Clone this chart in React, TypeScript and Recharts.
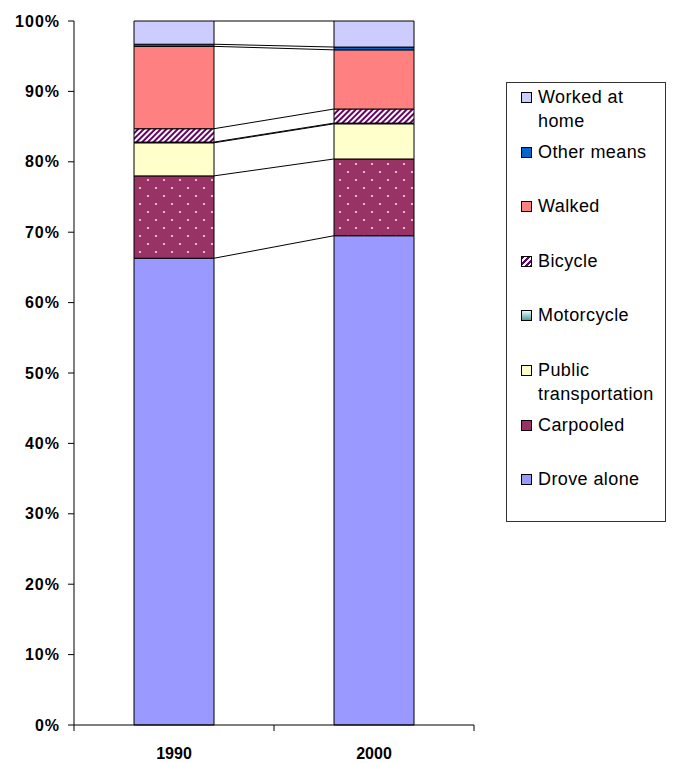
import { ComposedChart, Bar, Line, XAxis, YAxis } from "recharts";

// values in percent of workers
const years = ["1990", "2000"];
const droveAlone = [66.3, 69.5];
const carpooled = [11.7, 10.9];
const publicTransportation = [4.7, 5.0];
const motorcycle = [0.1, 0.1];
const bicycle = [1.9, 2.0];
const walked = [11.7, 8.4];
const otherMeans = [0.3, 0.4];
const workedAtHome = [3.3, 3.7];
const yTicks = [0, 10, 20, 30, 40, 50, 60, 70, 80, 90, 100];
const categoryEdges = [0, 1, 2];

const BAR_GAP = 0.3;
const FONT = "'Liberation Sans', Arial, sans-serif";

const series = [
  { key: "drove", name: "Drove alone", values: droveAlone, fill: "#9999FF", swatch: "#9999FF" },
  { key: "carpool", name: "Carpooled", values: carpooled, fill: "url(#dots)", swatch: "#993366" },
  { key: "public", name: "Public transportation", values: publicTransportation, fill: "#FFFFCC", swatch: "#FFFFCC" },
  { key: "moto", name: "Motorcycle", values: motorcycle, fill: "url(#teal)", swatch: "linear-gradient(to bottom, #dff, #5a9a9a)" },
  { key: "bike", name: "Bicycle", values: bicycle, fill: "url(#hatch)", swatch: "repeating-linear-gradient(135deg, #660066 0 2px, #fff 2px 4px)" },
  { key: "walk", name: "Walked", values: walked, fill: "#FF8080", swatch: "#FF8080" },
  { key: "other", name: "Other means", values: otherMeans, fill: "#0066CC", swatch: "#0066CC" },
  { key: "home", name: "Worked at home", values: workedAtHome, fill: "#CCCCFF", swatch: "#CCCCFF" },
];

const data = years.map((year, i) => {
  const row: Record<string, string | number> = { year };
  series.forEach((s) => (row[s.key] = s.values[i]));
  return row;
});

// connector lines from the right edge of 1990 to the left edge of 2000, at each segment top
const connectors = series.map((s, k) => {
  const cum = years.map((_, i) =>
    series.slice(0, k + 1).reduce((acc, t) => acc + t.values[i], 0)
  );
  return {
    key: s.key,
    points: [
      { pos: 1 - BAR_GAP, v: cum[0] },
      { pos: 1 + BAR_GAP, v: cum[1] },
    ],
  };
});

// tick mark between categories, drawn down from the axis line
const EdgeTick = (props: any) => (
  <line x1={props.x} x2={props.x} y1={props.y - 1} y2={props.y + 5} stroke="#000" />
);

function LegendBox() {
  return (
    <div
      style={{
        position: "absolute",
        left: 506,
        top: 82,
        width: 158,
        height: 438,
        border: "1px solid #333",
        fontFamily: FONT,
        fontSize: 18,
        letterSpacing: 0.4,
        color: "#000",
      }}
    >
      {[...series].reverse().map((s, i) => (
        <div
          key={s.key}
          style={{ position: "absolute", left: 0, top: 3 + i * 54.6, width: 158 }}
        >
          <div
            style={{
              position: "absolute",
              left: 14,
              top: 6,
              width: 9,
              height: 9,
              border: "1px solid #000",
              background: s.swatch,
            }}
          />
          <div style={{ position: "absolute", left: 31, width: 126, lineHeight: "23.5px" }}>
            {s.name}
          </div>
        </div>
      ))}
    </div>
  );
}

export default function App() {
  return (
    <div style={{ position: "absolute", left: 0, top: 0, width: 674, height: 763, background: "#fff" }}>
      <ComposedChart
        width={674}
        height={763}
        data={data}
        margin={{ top: 21, right: 200, bottom: 0, left: 0 }}
        barCategoryGap={`${BAR_GAP * 100}%`}
        style={{ fontFamily: FONT }}
      >
        <defs>
          <pattern id="dots" width="16" height="16" patternUnits="userSpaceOnUse">
            <rect width="16" height="16" fill="#993366" />
            <circle cx="4" cy="4" r="1.1" fill="#f2d9e6" />
            <circle cx="12" cy="12" r="1.1" fill="#f2d9e6" />
          </pattern>
          <pattern
            id="hatch"
            width="4"
            height="4"
            patternUnits="userSpaceOnUse"
            patternTransform="rotate(45)"
          >
            <rect width="4" height="4" fill="#fff" />
            <rect width="2" height="4" fill="#660066" />
          </pattern>
          <linearGradient id="teal" x1="0" y1="0" x2="0" y2="1">
            <stop offset="0%" stopColor="#ddffff" />
            <stop offset="100%" stopColor="#5a9a9a" />
          </linearGradient>
        </defs>
        <XAxis
          xAxisId="num"
          type="number"
          dataKey="pos"
          domain={[0, 2]}
          ticks={categoryEdges}
          tick={<EdgeTick />}
          tickLine={false}
          axisLine={false}
          tickSize={0}
          tickMargin={0}
          height={37}
        />
        <XAxis
          xAxisId="cat"
          dataKey="year"
          stroke="#000"
          tickLine={false}
          tickSize={0}
          tickMargin={23}
          height={1}
          tick={{ fontSize: 16, fontWeight: "bold", fill: "#000" }}
        />
        <YAxis
          domain={[0, 100]}
          ticks={yTicks}
          width={74}
          stroke="#000"
          tickSize={6}
          tickMargin={8}
          tickFormatter={(v) => `${v}%`}
          tick={{ fontSize: 16, fontWeight: "bold", fill: "#000", letterSpacing: 1 }}
        />
        {series.map((s) => (
          <Bar
            key={s.key}
            xAxisId="cat"
            dataKey={s.key}
            name={s.name}
            stackId="a"
            fill={s.fill}
            stroke="#000"
            strokeWidth={1}
            isAnimationActive={false}
          />
        ))}
        {connectors.map((c) => (
          <Line
            key={`line-${c.key}`}
            xAxisId="num"
            data={c.points}
            dataKey="v"
            type="linear"
            stroke="#000"
            strokeWidth={1}
            dot={false}
            activeDot={false}
            legendType="none"
            isAnimationActive={false}
          />
        ))}
      </ComposedChart>
      <LegendBox />
    </div>
  );
}
